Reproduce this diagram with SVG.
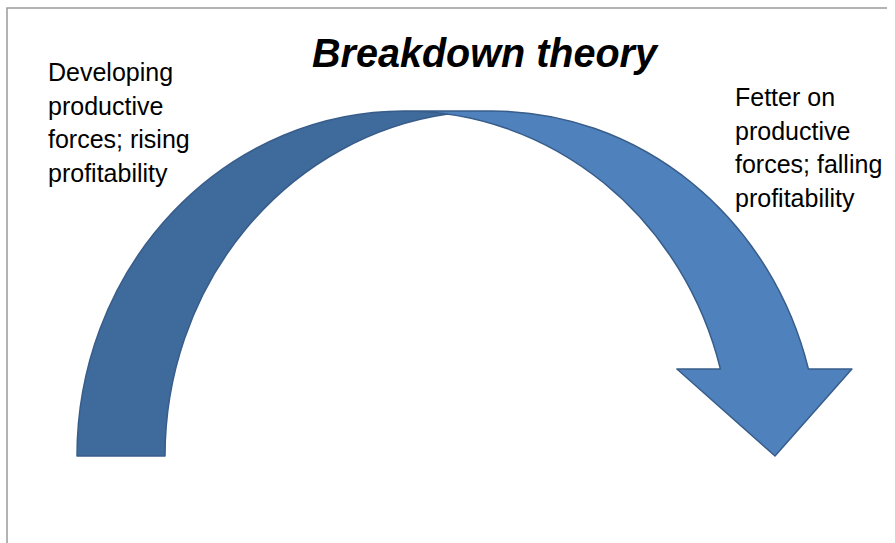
<svg xmlns="http://www.w3.org/2000/svg" width="895" height="543" viewBox="0 0 895 543">
<style>
.lbl{font-family:"Liberation Sans",Arial,sans-serif;font-size:25px;fill:#000}
.title{font-family:"Liberation Sans",Arial,sans-serif;font-size:40px;font-weight:bold;font-style:italic;fill:#000}
.light{fill:#4F81BD;stroke:none}
.dark{fill:#3F6A9C;stroke:none}
.outline{fill:none;stroke:#385D8A;stroke-width:1.5;stroke-linejoin:round}
.frame{fill:none;stroke:#9a9a9a;stroke-width:1.5}
</style>
<rect width="895" height="543" fill="#fff"/>
<g id="frame">
<polyline class="frame" points="7,543 7,8 887,8"/>
</g>
<g id="title">
<text class="title" x="312" y="67" textLength="345" lengthAdjust="spacingAndGlyphs">Breakdown theory</text>
</g>
<g id="curved-arrow">
<path class="light" d="M775 456 L676.9 369 L720.4 369 A327 345 0 0 0 404 111 L492 111 A327 345 0 0 1 808.4 369 L851.9 369 Z"/>
<path class="dark" d="M448 114.1 A327 345 0 0 0 165 456 L77 456 A327 345 0 0 1 448 114.1 Z"/>
<path class="outline" d="M448 114.1 A327 345 0 0 0 165 456 L77 456 A327 345 0 0 1 404 111 L492 111 A327 345 0 0 1 808.4 369 L851.9 369 L775 456 L676.9 369 L720.4 369 A327 345 0 0 0 404 111"/>
</g>
<g id="label-left">
<text class="lbl" x="48" y="81">Developing</text>
<text class="lbl" x="48" y="114.5">productive</text>
<text class="lbl" x="48" y="148">forces; rising</text>
<text class="lbl" x="48" y="181.5">profitability</text>
</g>
<g id="label-right">
<text class="lbl" x="735" y="106">Fetter on</text>
<text class="lbl" x="735" y="139.5">productive</text>
<text class="lbl" x="735" y="173">forces; falling</text>
<text class="lbl" x="735" y="206.5">profitability</text>
</g>
<g id="connectors"></g>
</svg>
